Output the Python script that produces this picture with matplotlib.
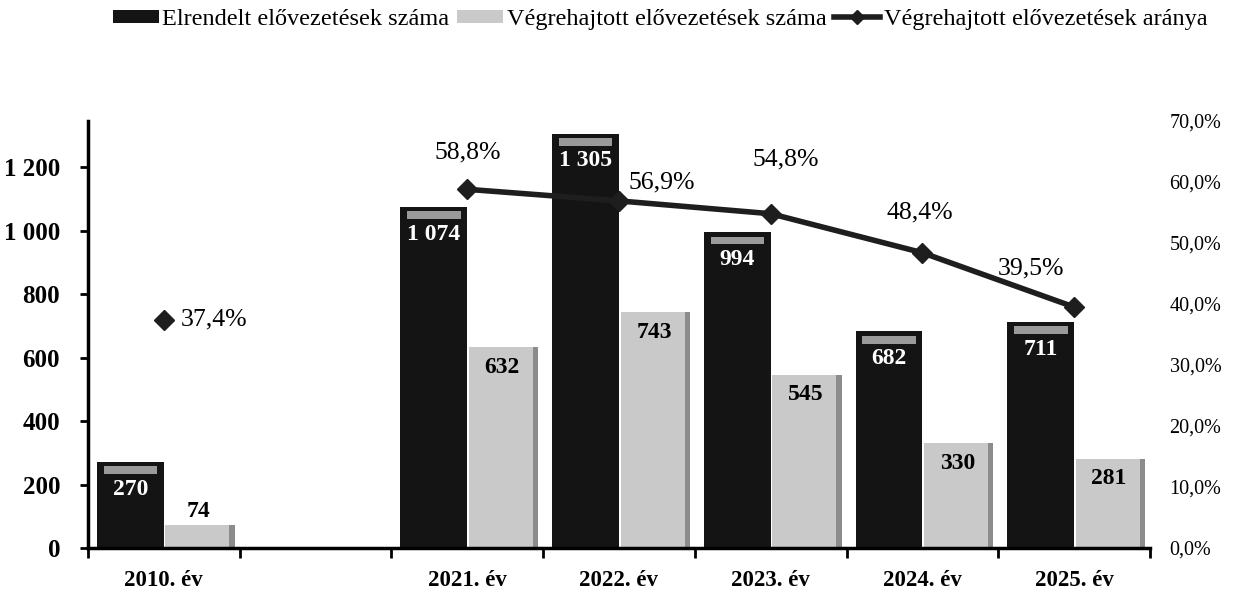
import numpy as np
import matplotlib
matplotlib.use("Agg")
import matplotlib.pyplot as plt
from matplotlib.patches import Patch
from matplotlib.lines import Line2D

plt.rcParams.update({
    "font.family": ["Liberation Serif", "DejaVu Serif"],
    "axes.linewidth": 2.5,
})

# data (the second slot is empty in the original)
categories = ["2010. év", "", "2021. év", "2022. év", "2023. év", "2024. év", "2025. év"]
ordered = [270, np.nan, 1074, 1305, 994, 682, 711]      # Elrendelt
executed = [74, np.nan, 632, 743, 545, 330, 281]        # Végrehajtott
ratio = [37.4, np.nan, 58.8, 56.9, 54.8, 48.4, 39.5]    # arány, %
ordered_lbl = ["270", "", "1 074", "1 305", "994", "682", "711"]
executed_lbl = ["74", "", "632", "743", "545", "330", "281"]
ratio_lbl = ["37,4%", "", "58,8%", "56,9%", "54,8%", "48,4%", "39,5%"]

dark = "#141414"
light = "#c9c9c9"

fig = plt.figure(figsize=(12.38, 5.96), dpi=100)
ax = fig.add_axes([0.071, 0.0805, 0.858, 0.7165])
x = np.arange(len(categories))
w = 0.44

ax.bar(x - w / 2, ordered, width=w, color=dark, zorder=2)
ax.bar(x + w / 2 + 0.01, executed, width=w, color=light, zorder=2)
# thin darker side face on the light bars (3D look)
ax.bar(x + w + 0.01, executed, width=0.035, color="#8c8c8c", zorder=2)
# bevel highlight at the top of the dark bars
ax.bar(x - w / 2, [25 if not np.isnan(v) else np.nan for v in ordered],
       bottom=[v - 38 if not np.isnan(v) else np.nan for v in ordered],
       width=w * 0.8, color="#9a9a9a", zorder=3)

for i in x:
    if np.isnan(ordered[i]):
        continue
    ax.annotate(ordered_lbl[i], (i - w / 2, ordered[i]), xytext=(0, -27),
                textcoords="offset pixels",
                ha="center", va="center", color="white", fontsize=17,
                fontweight="bold", zorder=5)
    off = 13 if executed[i] < 100 else -20
    ax.annotate(executed_lbl[i], (i + w / 2 + 0.01, executed[i]), xytext=(0, off),
                textcoords="offset pixels", ha="center", va="center",
                color="black", fontsize=17, fontweight="bold", zorder=5)

ax.set_xlim(-0.5, len(categories) - 0.5)
ax.set_ylim(0, 1345)
ax.set_yticks(range(0, 1201, 200))
ax.set_yticklabels([f"{v:,}".replace(",", " ") for v in range(0, 1201, 200)],
                   fontsize=18, fontweight="bold")
ax.set_xticks(x)
ax.set_xticklabels(categories, fontsize=16.5, fontweight="bold")
ax.set_xticks(np.arange(-0.5, len(categories), 1), minor=True)
ax.tick_params(axis="x", which="major", length=0, pad=16)
ax.tick_params(axis="x", which="minor", length=7, width=2, direction="out")
ax.tick_params(axis="y", length=6, width=2, direction="out", pad=14)
ax.spines["top"].set_visible(False)
ax.spines["right"].set_visible(False)

ax2 = ax.twinx()
ax2.set_ylim(0, 70)
ax2.set_yticks(range(0, 71, 10))
ax2.set_yticklabels([f"{v},0%" for v in range(0, 71, 10)], fontsize=14.5)
ax2.tick_params(axis="y", length=0, pad=14)
for s in ax2.spines.values():
    s.set_visible(False)

ax2.plot(x, ratio, color="#1e1e1e", lw=4, marker="D", markersize=10,
         markerfacecolor="#1e1e1e", zorder=4)
label_off = [(50, 0), None, (0, 37), (43, 18), (15, 54), (-3, 40), (-43, 39)]
for i in x:
    if np.isnan(ratio[i]):
        continue
    ax2.annotate(ratio_lbl[i], (i, ratio[i]), xytext=label_off[i],
                 textcoords="offset pixels", ha="center", va="center",
                 fontsize=18.5, color="black")

handles = [Patch(facecolor=dark), Patch(facecolor=light),
           Line2D([], [], color="#1e1e1e", lw=4, marker="D", markersize=7)]
labels = ["Elrendelt elővezetések száma", "Végrehajtott elővezetések száma",
          "Végrehajtott elővezetések aránya"]
fig.legend(handles, labels, loc="upper center", bbox_to_anchor=(0.533, 1.022),
           ncol=3, frameon=False, fontsize=17.5, handlelength=1.9,
           handleheight=0.45, handletextpad=0.15, columnspacing=0.3)

fig.savefig("out.png", dpi=100)
